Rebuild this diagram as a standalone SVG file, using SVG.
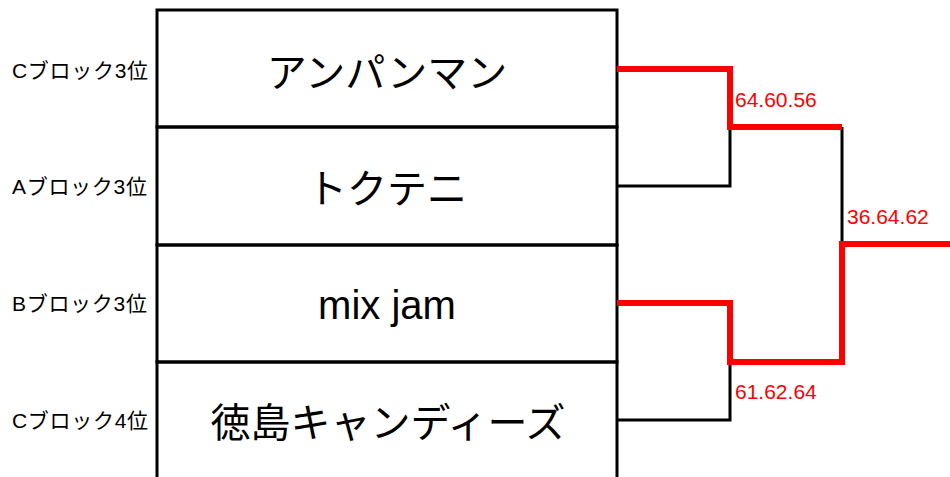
<svg xmlns="http://www.w3.org/2000/svg" width="950" height="477" viewBox="0 0 950 477">
<style>
.lbl{font-family:"Liberation Sans","Noto Sans CJK JP",sans-serif;font-size:21px;letter-spacing:0.7px;fill:#000;dominant-baseline:central}
.name{font-family:"Noto Sans CJK JP","Noto Sans",sans-serif;font-size:40px;fill:#000;text-anchor:middle;dominant-baseline:central}
.latin{font-family:"Liberation Sans","Noto Sans CJK JP",sans-serif}
.score{font-family:"Liberation Sans",sans-serif;font-size:21px;fill:#f00}
.blk{fill:none;stroke:#000;stroke-width:3}
.red{fill:none;stroke:#f00;stroke-width:6}
</style>
<rect width="950" height="477" fill="#fff"/>
<g id="team1">
<text class="lbl" x="12" y="70">Cブロック3位</text>
<rect class="blk" x="157" y="10" width="460" height="117"/>
<text class="name" x="387" y="70">アンパンマン</text>
</g>
<g id="team2">
<text class="lbl" x="12" y="186">Aブロック3位</text>
<rect class="blk" x="157" y="127" width="460" height="118"/>
<text class="name" x="387" y="186">トクテニ</text>
</g>
<g id="team3">
<text class="lbl" x="12" y="303">Bブロック3位</text>
<rect class="blk" x="157" y="245" width="460" height="117"/>
<text class="name latin" x="387" y="305">mix jam</text>
</g>
<g id="team4">
<text class="lbl" x="12" y="420">Cブロック4位</text>
<path class="blk" d="M157 490 V362 H617 V490"/>
<text class="name" x="388" y="420">徳島キャンディーズ</text>
</g>
<g id="connectors">
<path class="blk" d="M617 186 H730 V127"/>
<path class="blk" d="M617 420 H730 V362"/>
<path class="blk" d="M842 127 V244"/>
<path class="red" d="M617 69 H730 V127 H842"/>
<path class="red" d="M617 303 H730 V362 H842 V244 H950"/>
</g>
<g id="scores">
<text class="score" x="735" y="107">64.60.56</text>
<text class="score" x="847" y="224">36.64.62</text>
<text class="score" x="735" y="399">61.62.64</text>
</g>
</svg>
